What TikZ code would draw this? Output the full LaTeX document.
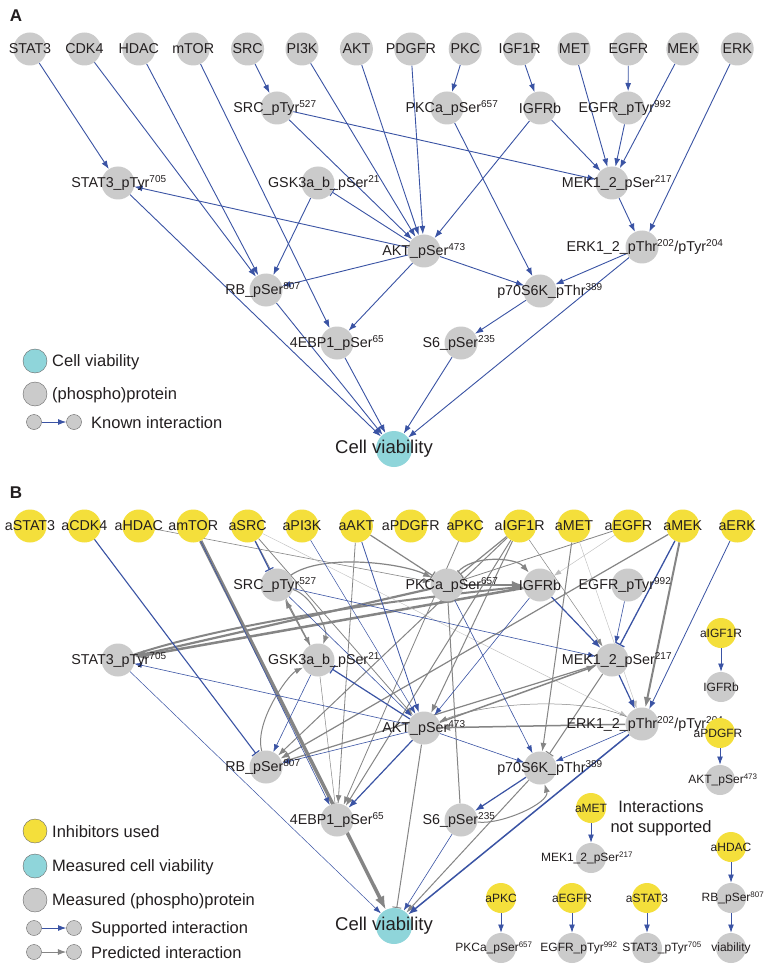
\documentclass[tikz,border=0pt]{standalone}
\usepackage{fontspec}
\setmainfont{Liberation Sans}
\usetikzlibrary{arrows.meta}
\pgfdeclarelayer{back}
\pgfdeclarelayer{bg}
\pgfsetlayers{back,bg,main}
\definecolor{eblue}{HTML}{3A53A4}
\definecolor{egray}{HTML}{858585}
\definecolor{ngray}{HTML}{CBCBCB}
\definecolor{nyel}{HTML}{F4DF3B}
\definecolor{ncyan}{HTML}{8FD5DA}
\definecolor{txtc}{HTML}{231F20}
\newcommand\sps[1]{\textsuperscript{#1}}
\newcommand\PN[6]{\node[#6] (#1) at (#2,#3) {};\node[lbl] (#1-l) at ({#2+(#4)},#3) {#5};}
\newcommand\SN[6]{\node[#6] (#1) at (#2,#3) {};\node[slbl] (#1-l) at ({#2+(#4)},#3) {#5};}
\tikzset{
 pc/.style={circle, fill=ngray, minimum size=33pt, inner sep=0pt},
 sc/.style={circle, fill=ngray, minimum size=30pt, inner sep=0pt},
 cellc/.style={circle, fill=ncyan, minimum size=36pt, inner sep=0pt},
 lc/.style={circle, draw=black!60, line width=0.4pt, minimum size=24pt, inner sep=0pt},
 tc/.style={circle, draw=black!60, fill=ngray, line width=0.4pt, minimum size=15pt, inner sep=0pt},
 lbl/.style={font=\fontsize{14.3}{16}\selectfont, text=txtc, inner sep=0pt},
 slbl/.style={font=\fontsize{12}{14}\selectfont, text=txtc, inner sep=0pt},
 leg/.style={font=\fontsize{16.5}{19}\selectfont, text=txtc, inner sep=0pt, anchor=west},
 ttl/.style={font=\fontsize{17}{19}\selectfont\bfseries, text=txtc, inner sep=0pt},
 ar/.style={-{Latex[length=6.5pt 2,width=4.5pt 1.6]}},
 br/.style={-{Bar[width=7pt 2]}},
 bl/.style={draw=eblue, line width=0.9pt},
 gr/.style={draw=egray, line width=1pt},
 lg/.style={draw=egray!55, line width=0.4pt},
}
\newcommand\Panel[4]{%
\begin{scope}[shift={(0,#2)}]
\PN{#1STAT3}{30}{49}{0}{#3STAT3}{pc,fill=#4}
\PN{#1CDK4}{84.4}{49}{0}{#3CDK4}{pc,fill=#4}
\PN{#1HDAC}{138.8}{49}{0}{#3HDAC}{pc,fill=#4}
\PN{#1mTOR}{193.2}{49}{0}{#3mTOR}{pc,fill=#4}
\PN{#1SRC}{247.6}{49}{0}{#3SRC}{pc,fill=#4}
\PN{#1PI3K}{302}{49}{0}{#3PI3K}{pc,fill=#4}
\PN{#1AKT}{356.4}{49}{0}{#3AKT}{pc,fill=#4}
\PN{#1PDGFR}{410.8}{49}{0}{#3PDGFR}{pc,fill=#4}
\PN{#1PKC}{465.2}{49}{0}{#3PKC}{pc,fill=#4}
\PN{#1IGF1R}{519.6}{49}{0}{#3IGF1R}{pc,fill=#4}
\PN{#1MET}{574}{49}{0}{#3MET}{pc,fill=#4}
\PN{#1EGFR}{628.4}{49}{0}{#3EGFR}{pc,fill=#4}
\PN{#1MEK}{682.8}{49}{0}{#3MEK}{pc,fill=#4}
\PN{#1ERK}{737.2}{49}{0}{#3ERK}{pc,fill=#4}
\PN{#1srcp}{277}{108}{-2}{SRC\_pTyr\sps{527}}{pc}
\PN{#1pkca}{447}{108}{5}{PKCa\_pSer\sps{657}}{pc}
\PN{#1igfrb}{540}{108}{0}{IGFRb}{pc}
\PN{#1egfrp}{628}{108}{-3}{EGFR\_pTyr\sps{992}}{pc}
\PN{#1stat3p}{118}{183}{1}{STAT3\_pTyr\sps{705}}{pc}
\PN{#1gsk}{318}{183}{6}{GSK3a\_b\_pSer\sps{21}}{pc}
\PN{#1mek12}{612}{183}{5}{MEK1\_2\_pSer\sps{217}}{pc}
\PN{#1aktp}{424}{251}{0}{AKT\_pSer\sps{473}}{pc}
\PN{#1erk12}{642}{247}{3}{ERK1\_2\_pThr\sps{202}/pTyr\sps{204}}{pc}
\PN{#1rb}{266}{290}{-3}{RB\_pSer\sps{807}}{pc}
\PN{#1p70}{540}{291}{10}{p70S6K\_pThr\sps{389}}{pc}
\PN{#1s6}{461}{343}{-2}{S6\_pSer\sps{235}}{pc}
\PN{#1ebp}{337}{343}{0}{4EBP1\_pSer\sps{65}}{pc}
\node[cellc] (#1cell) at (394,449) {};
\node[lbl, font=\fontsize{18.5}{20}\selectfont] (#1cell-l) at (384,449) {Cell viability};
\end{scope}}
\begin{document}
\begin{tikzpicture}[x=1pt,y=-1pt]
\begin{pgfonlayer}{back}
\fill[white] (0,0) rectangle (773,973);
\end{pgfonlayer}
\useasboundingbox (0,0) rectangle (773,973);
\node[ttl] (titA) at (16,16) {A};
\node[ttl] (titB) at (16,493) {B};
\Panel{A}{0}{}{ngray}
\Panel{B}{477}{a}{nyel}
% legend A
\node[lc, fill=ncyan] (LA1) at (35,361) {};
\node[leg] (LA1t) at (52,362) {Cell viability};
\node[lc, fill=ngray] (LA2) at (35,394) {};
\node[leg] (LA2t) at (52,395) {(phospho)protein};
\node[tc] (LA3a) at (34,422) {};
\node[tc] (LA3b) at (74,422) {};
\node[leg] (LA3t) at (91,423) {Known interaction};
% legend B
\node[lc, fill=nyel] (LB1) at (35,831) {};
\node[leg] (LB1t) at (52,832) {Inhibitors used};
\node[lc, fill=ncyan] (LB2) at (35,866) {};
\node[leg] (LB2t) at (52,867) {Measured cell viability};
\node[lc, fill=ngray] (LB3) at (35,900) {};
\node[leg] (LB3t) at (52,901) {Measured (phospho)protein};
\node[tc] (LB4a) at (34,928) {};
\node[tc] (LB4b) at (74,928) {};
\node[leg] (LB4t) at (91,929) {Supported interaction};
\node[tc] (LB5a) at (34,952) {};
\node[tc] (LB5b) at (74,952) {};
\node[leg] (LB5t) at (91,953) {Predicted interaction};
% not supported
\SN{NIGF}{721}{633}{0}{aIGF1R}{sc,fill=nyel}
\SN{NIGFt}{721}{687}{0}{IGFRb}{sc}
\SN{NPDG}{720}{733}{-2}{aPDGFR}{sc,fill=nyel}
\SN{NPDGt}{720}{780}{3}{AKT\_pSer\sps{473}}{sc}
\SN{NMET}{591}{808}{0}{aMET}{sc,fill=nyel}
\SN{NMETt}{591}{858}{-4}{MEK1\_2\_pSer\sps{217}}{sc}
\SN{NHDAC}{731}{847}{0}{aHDAC}{sc,fill=nyel}
\SN{NHDACt}{731}{898}{2}{RB\_pSer\sps{807}}{sc}
\SN{NHDACv}{731}{948}{0}{viability}{sc}
\SN{NPKC}{501}{898}{0}{aPKC}{sc,fill=nyel}
\SN{NPKCt}{501}{948}{-7}{PKCa\_pSer\sps{657}}{sc}
\SN{NEGF}{572}{898}{0}{aEGFR}{sc,fill=nyel}
\SN{NEGFt}{572}{948}{7}{EGFR\_pTyr\sps{992}}{sc}
\SN{NST}{647}{898}{0}{aSTAT3}{sc,fill=nyel}
\SN{NSTt}{647}{948}{15}{STAT3\_pTyr\sps{705}}{sc}
\node[font=\fontsize{16.5}{20}\selectfont, text=txtc, align=center, inner sep=0pt] (NStxt) at (661,818) {Interactions\\not supported};
\begin{pgfonlayer}{bg}
% legend arrows
\draw[bl,ar] (LA3a) -- (LA3b);
\draw[bl,ar] (LB4a) -- (LB4b);
\draw[gr,ar] (LB5a) -- (LB5b);
\draw[bl,ar] (NIGF) -- (NIGFt);
\draw[bl,ar] (NPDG) -- (NPDGt);
\draw[bl,ar] (NMET) -- (NMETt);
\draw[bl,ar] (NHDAC) -- (NHDACt);
\draw[bl,ar] (NHDACt) -- (NHDACv);
\draw[bl,ar] (NPKC) -- (NPKCt);
\draw[bl,ar] (NEGF) -- (NEGFt);
\draw[bl,ar] (NST) -- (NSTt);
% panel A
\draw[bl,ar] (ASTAT3) -- (Astat3p);
\draw[bl,ar] (ACDK4) -- (Arb);
\draw[bl,ar] (AHDAC) -- (Arb);
\draw[bl,ar] (AmTOR) -- (Aebp);
\draw[bl,ar] (ASRC) -- (Asrcp);
\draw[bl,ar] (Asrcp) -- (Amek12);
\draw[bl,ar] (Asrcp) -- (Aaktp);
\draw[bl,ar] (API3K) -- (Aaktp);
\draw[bl,ar] (AAKT) -- (Aaktp);
\draw[bl,ar] (APDGFR) -- (Aaktp);
\draw[bl,ar] (APKC) -- (Apkca);
\draw[bl,ar] (Apkca) -- (Ap70);
\draw[bl,ar] (AIGF1R) -- (Aigfrb);
\draw[bl,ar] (Aigfrb) -- (Aaktp);
\draw[bl,ar] (Aigfrb) -- (Amek12);
\draw[bl,ar] (AMET) -- (Amek12);
\draw[bl,ar] (AEGFR) -- (Aegfrp);
\draw[bl,ar] (Aegfrp) -- (Amek12);
\draw[bl,ar] (AMEK) -- (Amek12);
\draw[bl,ar] (AERK) -- (Aerk12);
\draw[bl,ar] (Amek12) -- (Aerk12);
\draw[bl,ar] (Aaktp) -- (Astat3p);
\draw[bl,br] (Aaktp) -- (Agsk);
\draw[bl,ar] (Agsk) -- (Arb);
\draw[bl,ar] (Aaktp) -- (Arb);
\draw[bl,ar] (Aaktp) -- (Aebp);
\draw[bl,ar] (Aaktp) -- (Ap70);
\draw[bl,ar] (Aerk12) -- (Ap70);
\draw[bl,ar] (Ap70) -- (As6);
\draw[bl,ar] (Aerk12) -- (Acell);
\draw[bl,ar] (As6) -- (Acell);
\draw[bl,ar] (Aebp) -- (Acell);
\draw[bl,ar] (Arb) -- (Acell);
\draw[bl,ar] (Astat3p) -- (Acell);
% panel B predicted
\draw[gr,ar,line width=3.5pt] (BmTOR) -- (Bcell);
\draw[gr,ar,line width=2.2pt] (Bpkca) -- (Bstat3p);
\draw[gr,ar,line width=2.5pt] (Bigfrb) -- (Bstat3p);
\draw[gr,ar,line width=2pt] (Bstat3p) .. controls +(120,-40) and +(-120,12) .. (Bigfrb);
\draw[gr,ar,line width=2.5pt] (Bpkca) -- (Bigfrb);
\draw[gr,ar,line width=1.2pt] (Bsrcp) .. controls +(45,-32) and +(-45,-22) .. (Bpkca);
\draw[gr,ar,line width=1.2pt] (Bpkca) .. controls +(25,-30) and +(-25,-28) .. (Bigfrb);
\draw[gr,br,line width=1.2pt] (BAKT) -- (Bpkca);
\draw[gr,br,line width=1.2pt] (BIGF1R) -- (Bpkca);
\draw[gr,br,line width=0.8pt] (BEGFR) -- (Bpkca);
\draw[gr,ar,line width=0.6pt] (BHDAC) -- (Bpkca);
\draw[gr,ar,line width=0.8pt] (BAKT) -- (Bebp);
\draw[lg,ar] (BSRC) -- (Berk12);
\draw[gr,ar,line width=0.8pt] (BSRC) -- (Bgsk);
\draw[gr,ar,line width=0.8pt] (BSRC) -- (Baktp);
\draw[gr,ar,line width=1pt] (Bsrcp) .. controls +(35,10) and +(10,-30) .. (Bgsk);
\draw[gr,ar,line width=1.2pt] (Bgsk) -- (Bsrcp);
\draw[gr,ar,line width=1pt] (Brb) .. controls +(-12,-45) and +(-30,15) .. (Bgsk);
\draw[gr,br,line width=0.5pt] (Bgsk) -- (Bebp);
\draw[gr,ar,line width=2pt] (BMEK) -- (Berk12);
\draw[lg,ar] (BMET) -- (Berk12);
\draw[gr,ar,line width=1pt] (BMET) -- (Bp70);
\draw[gr,br,line width=1pt] (Bmek12) -- (Bp70);
\draw[gr,ar,line width=1.5pt] (Baktp) -- (Bmek12);
\draw[gr,ar,line width=1.5pt] (Berk12) -- (Baktp);
\draw[gr,ar,line width=0.5pt] (Berk12) .. controls +(-60,-28) and +(60,-25) .. (Baktp);
\draw[gr,br,line width=1pt] (Bs6) -- (Bpkca);
\draw[gr,ar,line width=1pt] (Bs6) .. controls +(40,5) and +(10,35) .. (Bp70);
\draw[gr,ar,line width=1pt] (Bp70) -- (Bcell);
\draw[gr,br,line width=1pt] (Baktp) -- (Bcell);
\draw[gr,ar,line width=1.2pt] (Bmek12) -- (Brb);
\draw[gr,ar,line width=1.2pt] (BMEK) -- (Brb);
\draw[gr,ar,line width=1pt] (BIGF1R) -- (Brb);
\draw[gr,ar,line width=1pt] (BIGF1R) -- (Bebp);
\draw[gr,ar,line width=0.8pt] (BPKC) -- (Bebp);
\draw[lg,ar] (BEGFR) -- (Bigfrb);
\draw[gr,ar,line width=0.5pt] (BIGF1R) -- (Bmek12);
\draw[gr,ar,line width=1pt] (BIGF1R) -- (Baktp);
% panel B supported
\draw[bl,br,line width=1.1pt] (BCDK4) -- (Brb);
\draw[bl,br,line width=1.1pt] (BSRC) -- (Bsrcp);
\draw[bl,ar,line width=0.5pt] (BPI3K) -- (Baktp);
\draw[bl,ar,line width=0.8pt] (BAKT) -- (Baktp);
\draw[bl,br,line width=1.3pt] (BMEK) -- (Bmek12);
\draw[bl,ar,line width=0.8pt] (BERK) -- (Berk12);
\draw[bl,ar,line width=0.6pt] (Begfrp) -- (Bmek12);
\draw[bl,ar,line width=1.2pt] (Bigfrb) -- (Bmek12);
\draw[bl,ar,line width=0.6pt] (Bsrcp) -- (Bmek12);
\draw[bl,ar,line width=0.6pt] (Bsrcp) -- (Baktp);
\draw[bl,ar,line width=0.6pt] (Bigfrb) -- (Baktp);
\draw[bl,ar,line width=0.6pt] (Baktp) -- (Bstat3p);
\draw[bl,br,line width=1.2pt] (Baktp) -- (Bgsk);
\draw[bl,ar,line width=0.6pt] (Bgsk) -- (Brb);
\draw[bl,ar,line width=0.6pt] (Baktp) -- (Brb);
\draw[bl,ar,line width=1.2pt] (Baktp) -- (Bebp);
\draw[bl,ar,line width=0.6pt] (BmTOR) -- (Bebp);
\draw[bl,ar,line width=0.6pt] (Baktp) -- (Bp70);
\draw[bl,ar,line width=0.6pt] (Bpkca) -- (Bp70);
\draw[bl,ar,line width=0.6pt] (Berk12) -- (Bp70);
\draw[bl,ar,line width=1.2pt] (Bp70) -- (Bs6);
\draw[bl,ar,line width=1.5pt] (Berk12) -- (Bcell);
\draw[bl,ar,line width=0.6pt] (Bs6) -- (Bcell);
\draw[bl,ar,line width=0.5pt] (Bstat3p) -- (Bcell);
\draw[bl,ar,line width=1.2pt] (Bmek12) -- (Berk12);
\end{pgfonlayer}
\end{tikzpicture}
\end{document}
